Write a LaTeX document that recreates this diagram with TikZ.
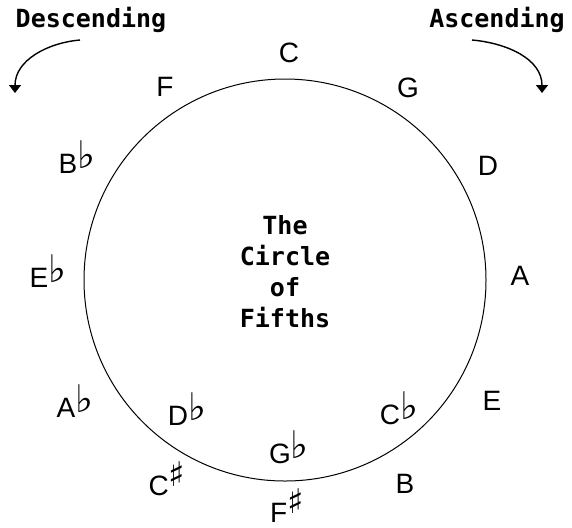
\documentclass[tikz,border=0pt]{standalone}
\usepackage{fontspec}
\usepackage{tikz}
\usetikzlibrary{arrows.meta}
\setmainfont{Liberation Sans}
\newfontfamily\symfont{DejaVu Sans}
\newfontfamily\pixfont{DejaVu Sans Mono}
\newcommand{\keyflat}{\raisebox{2.5pt}{\symfont\fontsize{19}{19}\selectfont ♭}}
\newcommand{\keysharp}{\raisebox{4.5pt}{\symfont\fontsize{17}{17}\selectfont ♯}}

\begin{document}
\begin{tikzpicture}[x=0.5pt, y=-0.5pt,
    note/.style={font=\fontsize{14}{16}\selectfont, inner sep=0pt, anchor=base},
    title/.style={font=\pixfont\bfseries\fontsize{12.5}{15.5}\selectfont, inner sep=0pt, align=center}]
    \useasboundingbox (0,0) rectangle (572,527);

    % The circle
    \draw[line width=0.5pt] (285,280) circle[radius=100.5pt];
    \node[title] (middle) at (285,272) {The\\Circle\\of\\Fifths};

    % Sharp side
    \node[note] (c) at (289,62) {C};
    \node[note] (g) at (408,97) {G};
    \node[note] (d) at (488,175) {D};
    \node[note] (a) at (520,285) {A};
    \node[note] (e) at (492,410) {E};
    \node[note] (b) at (405,493) {B};
    \node[note] (fs) at (287,522) {F\keysharp};
    \node[note] (cs) at (167,495) {C\keysharp};

    % Flat side
    \node[note] (f) at (165,96) {F};
    \node[note] (bf) at (77,173) {B\keyflat};
    \node[note] (ef) at (48,287) {E\keyflat};
    \node[note] (af) at (75,417) {A\keyflat};
    \node[note] (df) at (187,425) {D\keyflat};
    \node[note] (gf) at (289,463) {G\keyflat};
    \node[note] (cf) at (399,424) {C\keyflat};

    % Directions
    \node[title] (desc) at (91,20) {Descending};
    \node[title] (asc) at (497,20) {Ascending};
    \coordinate (dfrom) at (80,40);
    \coordinate (dto) at (15,93);
    \coordinate (afrom) at (472,40);
    \coordinate (ato) at (542,93);
    \draw[line width=0.7pt, -{Triangle[width=6pt,length=4pt]}] (dfrom) to[out=185,in=90] (dto);
    \draw[line width=0.7pt, -{Triangle[width=6pt,length=4pt]}] (afrom) to[out=-5,in=90] (ato);
\end{tikzpicture}
\end{document}
